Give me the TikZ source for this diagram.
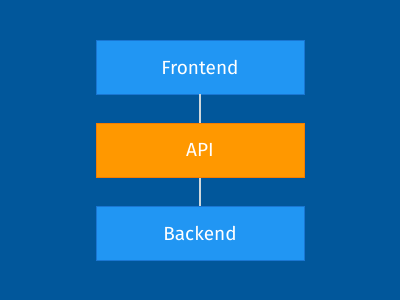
\documentclass[tikz,border=0pt]{standalone}
\usepackage{fontspec}
\setmainfont{Fira Sans}
\usepackage{tikz}
\usetikzlibrary{positioning}
\definecolor{st-bg}{HTML}{01579B}
\definecolor{st-blue}{HTML}{2196F3}
\definecolor{st-blueline}{HTML}{1976D2}
\definecolor{st-orange}{HTML}{FF9800}
\definecolor{st-orangeline}{HTML}{F57C00}
\definecolor{st-link}{HTML}{CFD8DC}

\begin{document}
\begin{tikzpicture}[
    x=1pt, y=1pt,
    node distance=28.5pt,
    font=\fontsize{19}{22}\selectfont
  ]

  % Styles for the stack layers
  \tikzset{
    layer/.style={draw=st-blueline, fill=st-blue, line width=0.8pt, minimum width=208pt, minimum height=54pt, text=white, align=center, inner sep=0pt},
    core/.style={layer, draw=st-orangeline, fill=st-orange}
  }

  % Background
  \fill[st-bg] (0,0) rectangle (400,300);
  \useasboundingbox (0,0) rectangle (400,300);

  % Vertical stack
  \node (frontend) [layer] at (200,233) {Frontend};
  \node (api)      [core, below=of frontend] {API};
  \node (backend)  [layer, below=of api] {Backend};

  % Links between layers
  \draw[st-link, line width=1.5pt] (frontend) -- (api);
  \draw[st-link, line width=1.5pt] (api) -- (backend);

\end{tikzpicture}
\end{document}
